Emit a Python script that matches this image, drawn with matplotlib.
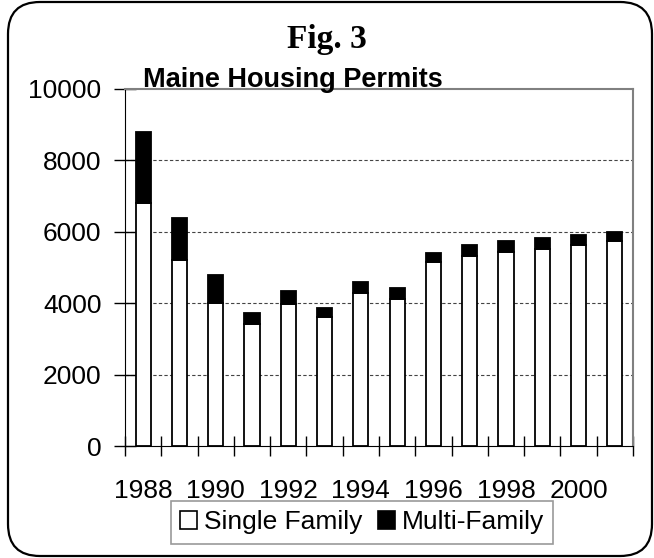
import matplotlib
matplotlib.use('Agg')
import matplotlib.pyplot as plt
from matplotlib.patches import Patch, FancyBboxPatch
import numpy as np

plt.rcParams['font.family'] = ['Liberation Sans', 'DejaVu Sans']

years = list(range(1988, 2002))
single_family = [6800, 5200, 4000, 3420, 3970, 3600, 4290, 4130, 5150, 5320, 5430, 5520, 5640, 5740]
multi_family = [2000, 1200, 780, 310, 380, 260, 310, 300, 260, 320, 310, 310, 270, 260]
yticks = [0, 2000, 4000, 6000, 8000, 10000]
xlabel_years = [1988, 1990, 1992, 1994, 1996, 1998, 2000]

fig = plt.figure(figsize=(6.54, 5.58), dpi=100)
ax = fig.add_axes([125/654, 1-446/558, 508/654, 357/558])

x = np.arange(len(years))
ax.bar(x, single_family, width=0.42, color='white', edgecolor='black', linewidth=1.3, zorder=3)
ax.bar(x, multi_family, width=0.42, bottom=single_family, color='black', edgecolor='black',
       linewidth=1.3, zorder=3)

ax.set_xlim(-0.5, len(years) - 0.5)
ax.set_ylim(0, 10000)
ax.set_yticks(yticks)
ax.set_yticklabels([str(v) for v in yticks], fontsize=19)
ax.tick_params(axis='y', direction='inout', length=16, width=1, pad=9)

pos = [years.index(y) for y in xlabel_years]
ax.set_xticks(pos)
ax.set_xticklabels([str(y) for y in xlabel_years], fontsize=19)
ax.tick_params(axis='x', which='major', length=0, pad=24)
ax.set_xticks(np.arange(-0.5, len(years), 1), minor=True)
ax.tick_params(axis='x', which='minor', direction='inout', length=15, width=1)

for v in yticks[1:-1]:
    ax.axhline(v, color='#444444', linestyle=(0, (3, 2)), linewidth=0.8, zorder=1)

ax.spines['top'].set_color('#808080')
ax.spines['right'].set_color('#808080')
ax.spines['top'].set_linewidth(1.5)
ax.spines['right'].set_linewidth(1.5)

fig.text(327/654, 1-48/558, 'Fig. 3', ha='center', va='baseline', fontsize=24,
         fontweight='bold', family=['Liberation Serif', 'DejaVu Serif'])
fig.text(293/654, 1-87/558, 'Maine Housing Permits', ha='center', va='baseline',
         fontsize=19.5, fontweight='bold')

handles = [Patch(facecolor='white', edgecolor='black', linewidth=1.2, label='Single Family'),
           Patch(facecolor='black', edgecolor='black', linewidth=1.2, label='Multi-Family')]
leg = fig.legend(handles=handles, loc='center', bbox_to_anchor=(362/654, 1-522.5/558),
                 ncol=2, fontsize=19, frameon=True, fancybox=False, handlelength=0.65,
                 handleheight=0.65, handletextpad=0.25, columnspacing=0.6, borderpad=0.35,
                 borderaxespad=0)
leg.get_frame().set_edgecolor('#808080')
leg.get_frame().set_linewidth(1.2)

border = FancyBboxPatch((0.08, 0.02), 6.44, 5.54, boxstyle='round,pad=0,rounding_size=0.32',
                        transform=fig.dpi_scale_trans, facecolor='none', edgecolor='black',
                        linewidth=1.6)
fig.patches.append(border)

fig.savefig('out.png', dpi=100)
